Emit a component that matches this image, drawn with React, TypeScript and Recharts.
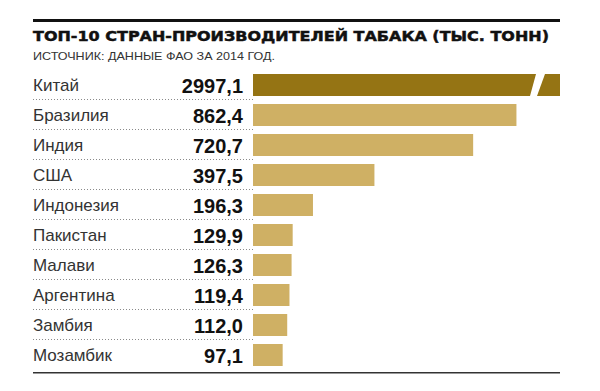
import React from 'react';
import { BarChart, Bar, XAxis, YAxis, Cell } from 'recharts';

const countries = ['Китай', 'Бразилия', 'Индия', 'США', 'Индонезия', 'Пакистан', 'Малави', 'Аргентина', 'Замбия', 'Мозамбик'];
const production = [2997.1, 862.4, 720.7, 397.5, 196.3, 129.9, 126.3, 119.4, 112.0, 97.1];
const valueLabels = ['2997,1', '862,4', '720,7', '397,5', '196,3', '129,9', '126,3', '119,4', '112,0', '97,1'];
const axisMax = 1005;

const title = 'ТОП-10 СТРАН-ПРОИЗВОДИТЕЛЕЙ ТАБАКА (ТЫС. ТОНН)';
const subtitle = 'ИСТОЧНИК: ДАННЫЕ ФАО ЗА 2014 ГОД.';

const data = countries.map((c, i) => ({ country: c, value: production[i], label: valueLabels[i] }));

const DARK = '#957414';
const LIGHT = '#cfb064';

const Tick = (props: any) => {
  const { x, y, payload, index } = props;
  const i = payload.index ?? index;
  const half = payload.offset ?? 15;
  const isLast = i === data.length - 1;
  return (
    <g>
      <text x={x - 210} y={y + 6} fontFamily="'Liberation Sans', Arial, sans-serif" fontSize={17} fill="#333" textAnchor="start">
        {payload.value}
      </text>
      <text x={x} y={y + 8} fontFamily="'Liberation Sans', Arial, sans-serif" fontSize={20} fontWeight="bold" fill="#111" textAnchor="end">
        {data[i] ? data[i].label : ''}
      </text>
      {!isLast && (
        <line x1={x - 210} x2={x + 10} y1={y + half - 0.5} y2={y + half - 0.5} stroke="#8a8a8a" strokeWidth={1} strokeDasharray="1 2" />
      )}
    </g>
  );
};

const BrokenBar = (props: any) => {
  const { x, y, width, height, fill, background } = props;
  const maxX = background ? background.x + background.width : x + width;
  if (x + width <= maxX + 0.5) {
    return <rect x={x} y={y} width={width} height={height} fill={fill} />;
  }
  const b = y + height;
  return (
    <g>
      <polygon points={`${x},${y} ${maxX - 24},${y} ${maxX - 30},${b} ${x},${b}`} fill={fill} />
      <polygon points={`${maxX - 15},${y} ${maxX},${y} ${maxX},${b} ${maxX - 23},${b}`} fill={fill} />
    </g>
  );
};

export default function App() {
  return (
    <div style={{ position: 'absolute', left: 0, top: 0, width: 600, height: 391, background: '#fff' }}>
      <div style={{ position: 'absolute', left: 0, top: 0 }}>
        <BarChart width={600} height={391} data={data} layout="vertical" margin={{ top: 70, right: 40, bottom: 21, left: 0 }} barCategoryGap={8}>
          <XAxis type="number" domain={[0, axisMax]} allowDataOverflow hide />
          <YAxis type="category" dataKey="country" width={253} axisLine={false} tickLine={false} tickSize={0} tickMargin={10} tick={<Tick />} interval={0} />
          <Bar dataKey="value" barSize={22} isAnimationActive={false} shape={<BrokenBar />}>
            {data.map((d, i) => (
              <Cell key={d.country} fill={i === 0 ? DARK : LIGHT} />
            ))}
          </Bar>
        </BarChart>
      </div>
      <svg width={600} height={391} style={{ position: 'absolute', left: 0, top: 0, pointerEvents: 'none' }}>
        <rect x={33} y={19} width={527} height={3} fill="#111" />
        <text x={33} y={41} fontFamily="'DejaVu Sans', sans-serif" fontWeight="bold" fontSize={14.5} fill="#111" stroke="#111" strokeWidth={0.5} textLength={516} lengthAdjust="spacingAndGlyphs">
          {title}
        </text>
        <text x={33} y={60} fontFamily="'Liberation Sans', Arial, sans-serif" fontSize={11.5} fill="#333" textLength={242} lengthAdjust="spacingAndGlyphs">
          {subtitle}
        </text>
        <rect x={33} y={372} width={527} height={1.5} fill="#333" />
      </svg>
    </div>
  );
}
